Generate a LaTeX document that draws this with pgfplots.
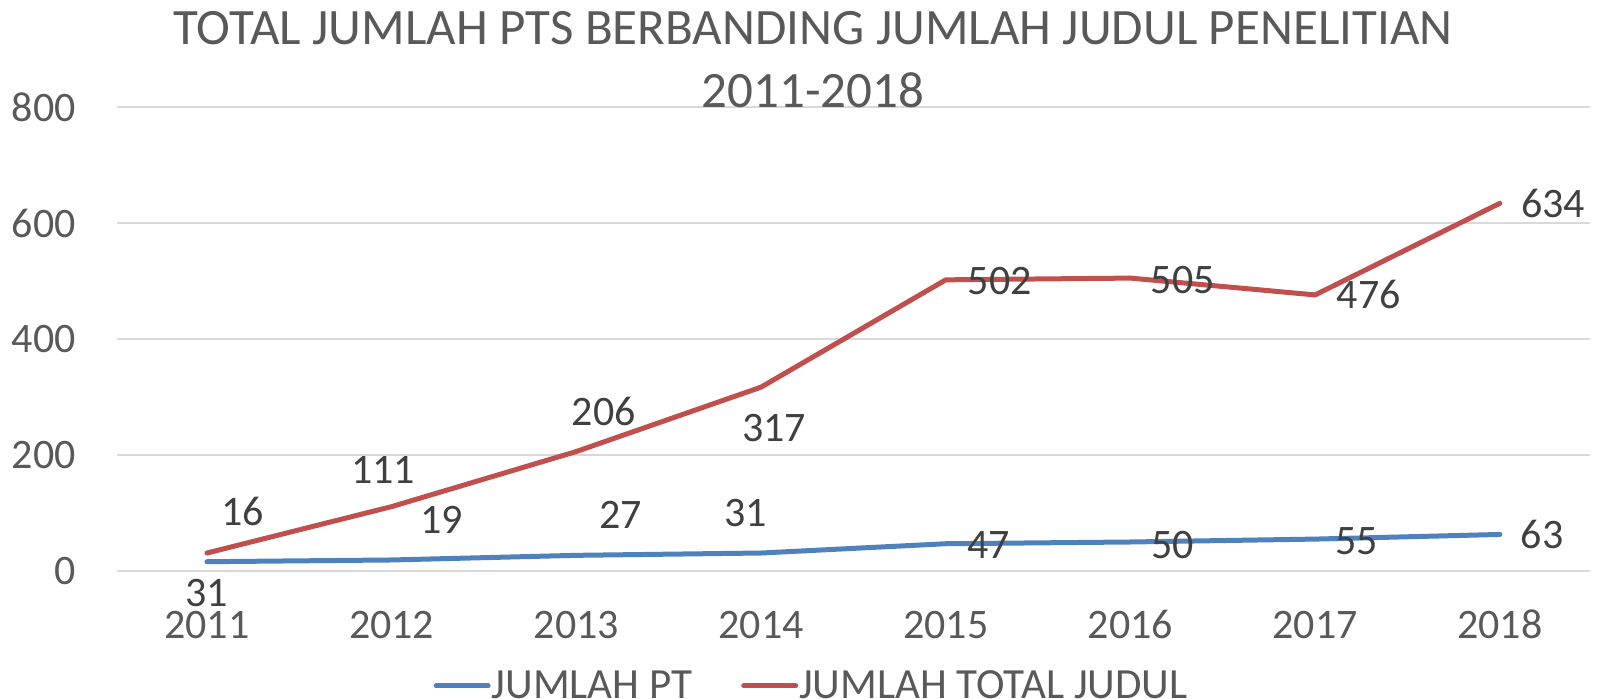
\documentclass[border=0pt]{standalone}
\usepackage{pgfplots}
\pgfplotsset{compat=1.18}
\usepackage{fontspec}
\setmainfont{Carlito}
\definecolor{ptc}{HTML}{4F81BD}
\definecolor{judc}{HTML}{C0504D}
\definecolor{tickc}{HTML}{595959}
\definecolor{labc}{HTML}{404040}
\definecolor{gridc}{HTML}{D9D9D9}
\tikzset{lab/.style={anchor=base, text=labc, font=\fontsize{21}{25}\selectfont, inner sep=0pt}}
\begin{document}
\begin{tikzpicture}
\useasboundingbox (-58.5pt,-64pt) rectangle (741pt,285.5pt);
\begin{axis}[
  at={(0,0)}, anchor=south west, scale only axis,
  width=736.5pt, height=232pt,
  xmin=-0.487, xmax=7.488, ymin=0, ymax=800,
  ytick={0,200,400,600,800},
  xtick={0,1,2,3,4,5,6,7},
  xticklabels={2011,2012,2013,2014,2015,2016,2017,2018},
  ymajorgrids, grid style={gridc, line width=1pt},
  axis line style={draw=none}, major tick length=0pt,
  tick label style={font=\fontsize{21}{25}\selectfont, text=tickc},
  /pgf/number format/assume math mode=true,
  yticklabel style={anchor=east, inner sep=0pt, xshift=-20.5pt},
  xticklabel style={anchor=base, inner sep=0pt, yshift=-34pt},
  clip=false,
  legend columns=2,
  legend cell align=left,
  legend style={draw=none, fill=none, at={(0.215,-0.2475)}, anchor=west,
    inner sep=0pt, outer sep=0pt,
    nodes={inner sep=0.5pt},
    font=\fontsize{21.5}{25}\selectfont, text=tickc,
    /tikz/every even column/.append style={column sep=24pt}},
  legend image code/.code={\draw[#1, line width=2.5pt, line cap=round] (1.5pt,0pt) -- (27.5pt,0pt);},
]
\addplot[ptc, line width=2.5pt, line join=round, line cap=round] coordinates {
 (0,16) (1,19) (2,27) (3,31) (4,47) (5,50) (6,55) (7,63)};
\addlegendentry{JUMLAH PT}
\addplot[judc, line width=2.5pt, line join=round, line cap=round] coordinates {
 (0,31) (1,111) (2,206) (3,317) (4,502) (5,505) (6,476) (7,634)};
\addlegendentry{JUMLAH TOTAL JUDUL}

\node[lab] at (axis cs:0.195,79) {16};
\node[lab] at (axis cs:1.272,65.5) {19};
\node[lab] at (axis cs:2.241,74) {27};
\node[lab] at (axis cs:2.918,76) {31};
\node[lab] at (axis cs:4.234,22.4) {47};
\node[lab] at (axis cs:5.23,20.7) {50};
\node[lab] at (axis cs:6.226,29) {55};
\node[lab] at (axis cs:7.228,38) {63};

\node[lab] at (axis cs:0,-62) {31};
\node[lab] at (axis cs:0.953,151.7) {111};
\node[lab] at (axis cs:2.149,251.7) {206};
\node[lab] at (axis cs:3.07,224) {317};
\node[lab] at (axis cs:4.293,476) {502};
\node[lab] at (axis cs:5.284,479) {505};
\node[lab] at (axis cs:6.291,452) {476};
\node[lab] at (axis cs:7.288,610) {634};

\node[anchor=base, text=tickc, font=\fontsize{25.5}{30}\selectfont, inner sep=0pt] at (axis cs:3.281,907) {TOTAL JUMLAH PTS BERBANDING JUMLAH JUDUL PENELITIAN};
\node[anchor=base, text=tickc, font=\fontsize{25.5}{30}\selectfont, inner sep=0pt] at (axis cs:3.281,798.3) {2011-2018};
\end{axis}
\end{tikzpicture}
\end{document}
